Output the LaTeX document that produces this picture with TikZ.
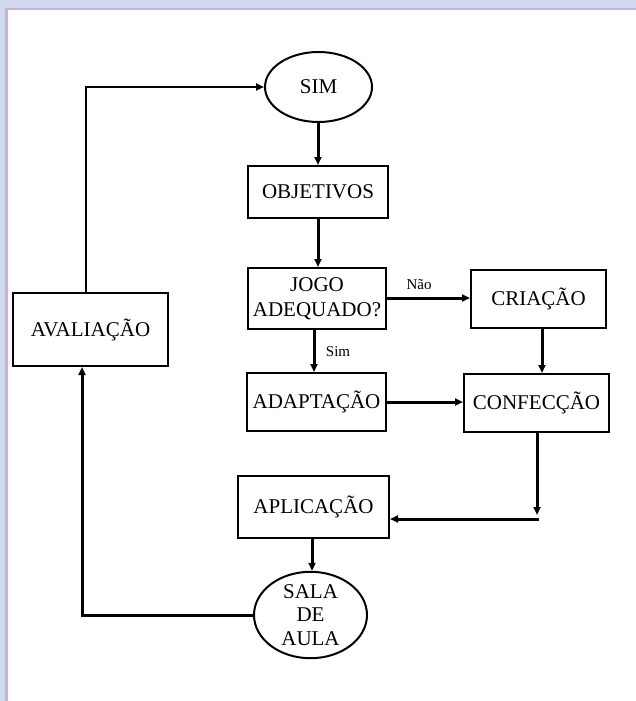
\documentclass[tikz,border=0pt]{standalone}
\usepackage{fontspec}
\setmainfont{Liberation Serif}
\usetikzlibrary{arrows.meta,shapes.geometric}
\definecolor{lav}{HTML}{D4D8EC}
\definecolor{purp}{HTML}{C8B3D8}
\tikzset{
  boxnode/.style={draw, line width=2pt, rectangle, inner sep=0pt, align=center, font=\fontsize{21}{25}\selectfont},
  ovalnode/.style={draw, line width=2pt, ellipse, inner sep=0pt, align=center, font=\fontsize{21}{23.5}\selectfont},
  conn/.style={line width=3pt, -{Triangle[length=8pt,width=7pt]}},
  thinconn/.style={line width=2pt, -{Triangle[length=8pt,width=7pt]}},
  lbl/.style={font=\fontsize{15}{18}\selectfont, inner sep=0pt}
}
\begin{document}
\begin{tikzpicture}[x=1pt,y=-1pt]
\fill[lav] (0,0) rectangle (636,701);
\fill[purp] (5,8) rectangle (636,701);
\fill[white] (7.5,10.5) rectangle (636,701);
\useasboundingbox (0,0) rectangle (636,701);

\node[ovalnode, minimum width=107pt, minimum height=70pt] (sim) at (318.5,87) {SIM};
\node[boxnode, minimum width=140pt, minimum height=52pt] (obj) at (318,192) {OBJETIVOS};
\node[boxnode, minimum width=138pt, minimum height=61pt] (jogo) at (317,298.5) {JOGO\\ADEQUADO?};
\node[boxnode, minimum width=135pt, minimum height=58pt] (cria) at (538.5,299) {CRIAÇÃO};
\node[boxnode, minimum width=139pt, minimum height=58pt] (adapt) at (316.5,402) {ADAPTAÇÃO};
\node[boxnode, minimum width=145pt, minimum height=58pt] (conf) at (536.5,403) {CONFECÇÃO};
\node[boxnode, minimum width=151pt, minimum height=62pt] (aplic) at (313.5,507) {APLICAÇÃO};
\node[ovalnode, minimum width=113pt, minimum height=85pt] (sala) at (310.5,615) {SALA\\DE\\AULA};
\node[boxnode, minimum width=155pt, minimum height=73pt] (aval) at (90.5,329.5) {AVALIAÇÃO};

\coordinate (xa) at (86,0);
\coordinate (xb) at (82,0);
\coordinate (xo) at (318,0);
\coordinate (xs) at (314,0);
\coordinate (xc) at (542,0);
\coordinate (xd) at (537,0);
\coordinate (xp) at (312,0);
\coordinate (yj) at (0,298);
\coordinate (ya) at (0,402);
\coordinate (cend) at (537,515);
\coordinate (hstart) at (539,519);

\draw[thinconn] (aval.north -| xa) |- (sim.west);
\draw[conn] (sim.south -| xo) -- (obj.north -| xo);
\draw[conn] (obj.south -| xo) -- (jogo.north -| xo);
\draw[conn] (jogo.south -| xs) -- (adapt.north -| xs);
\draw[conn] (jogo.east |- yj) -- (cria.west |- yj);
\draw[conn] (cria.south -| xc) -- (conf.north -| xc);
\draw[conn] (adapt.east |- ya) -- (conf.west |- ya);
\draw[conn] (conf.south -| xd) -- (cend);
\draw[conn] (hstart) -- (hstart -| aplic.east);
\draw[conn] (aplic.south -| xp) -- (sala.north -| xp);
\draw[conn] (sala.west) -| (aval.south -| xb);

\node[lbl] (nao) at (419,285) {Não};
\node[lbl] (simlbl) at (338,352) {Sim};
\end{tikzpicture}
\end{document}
